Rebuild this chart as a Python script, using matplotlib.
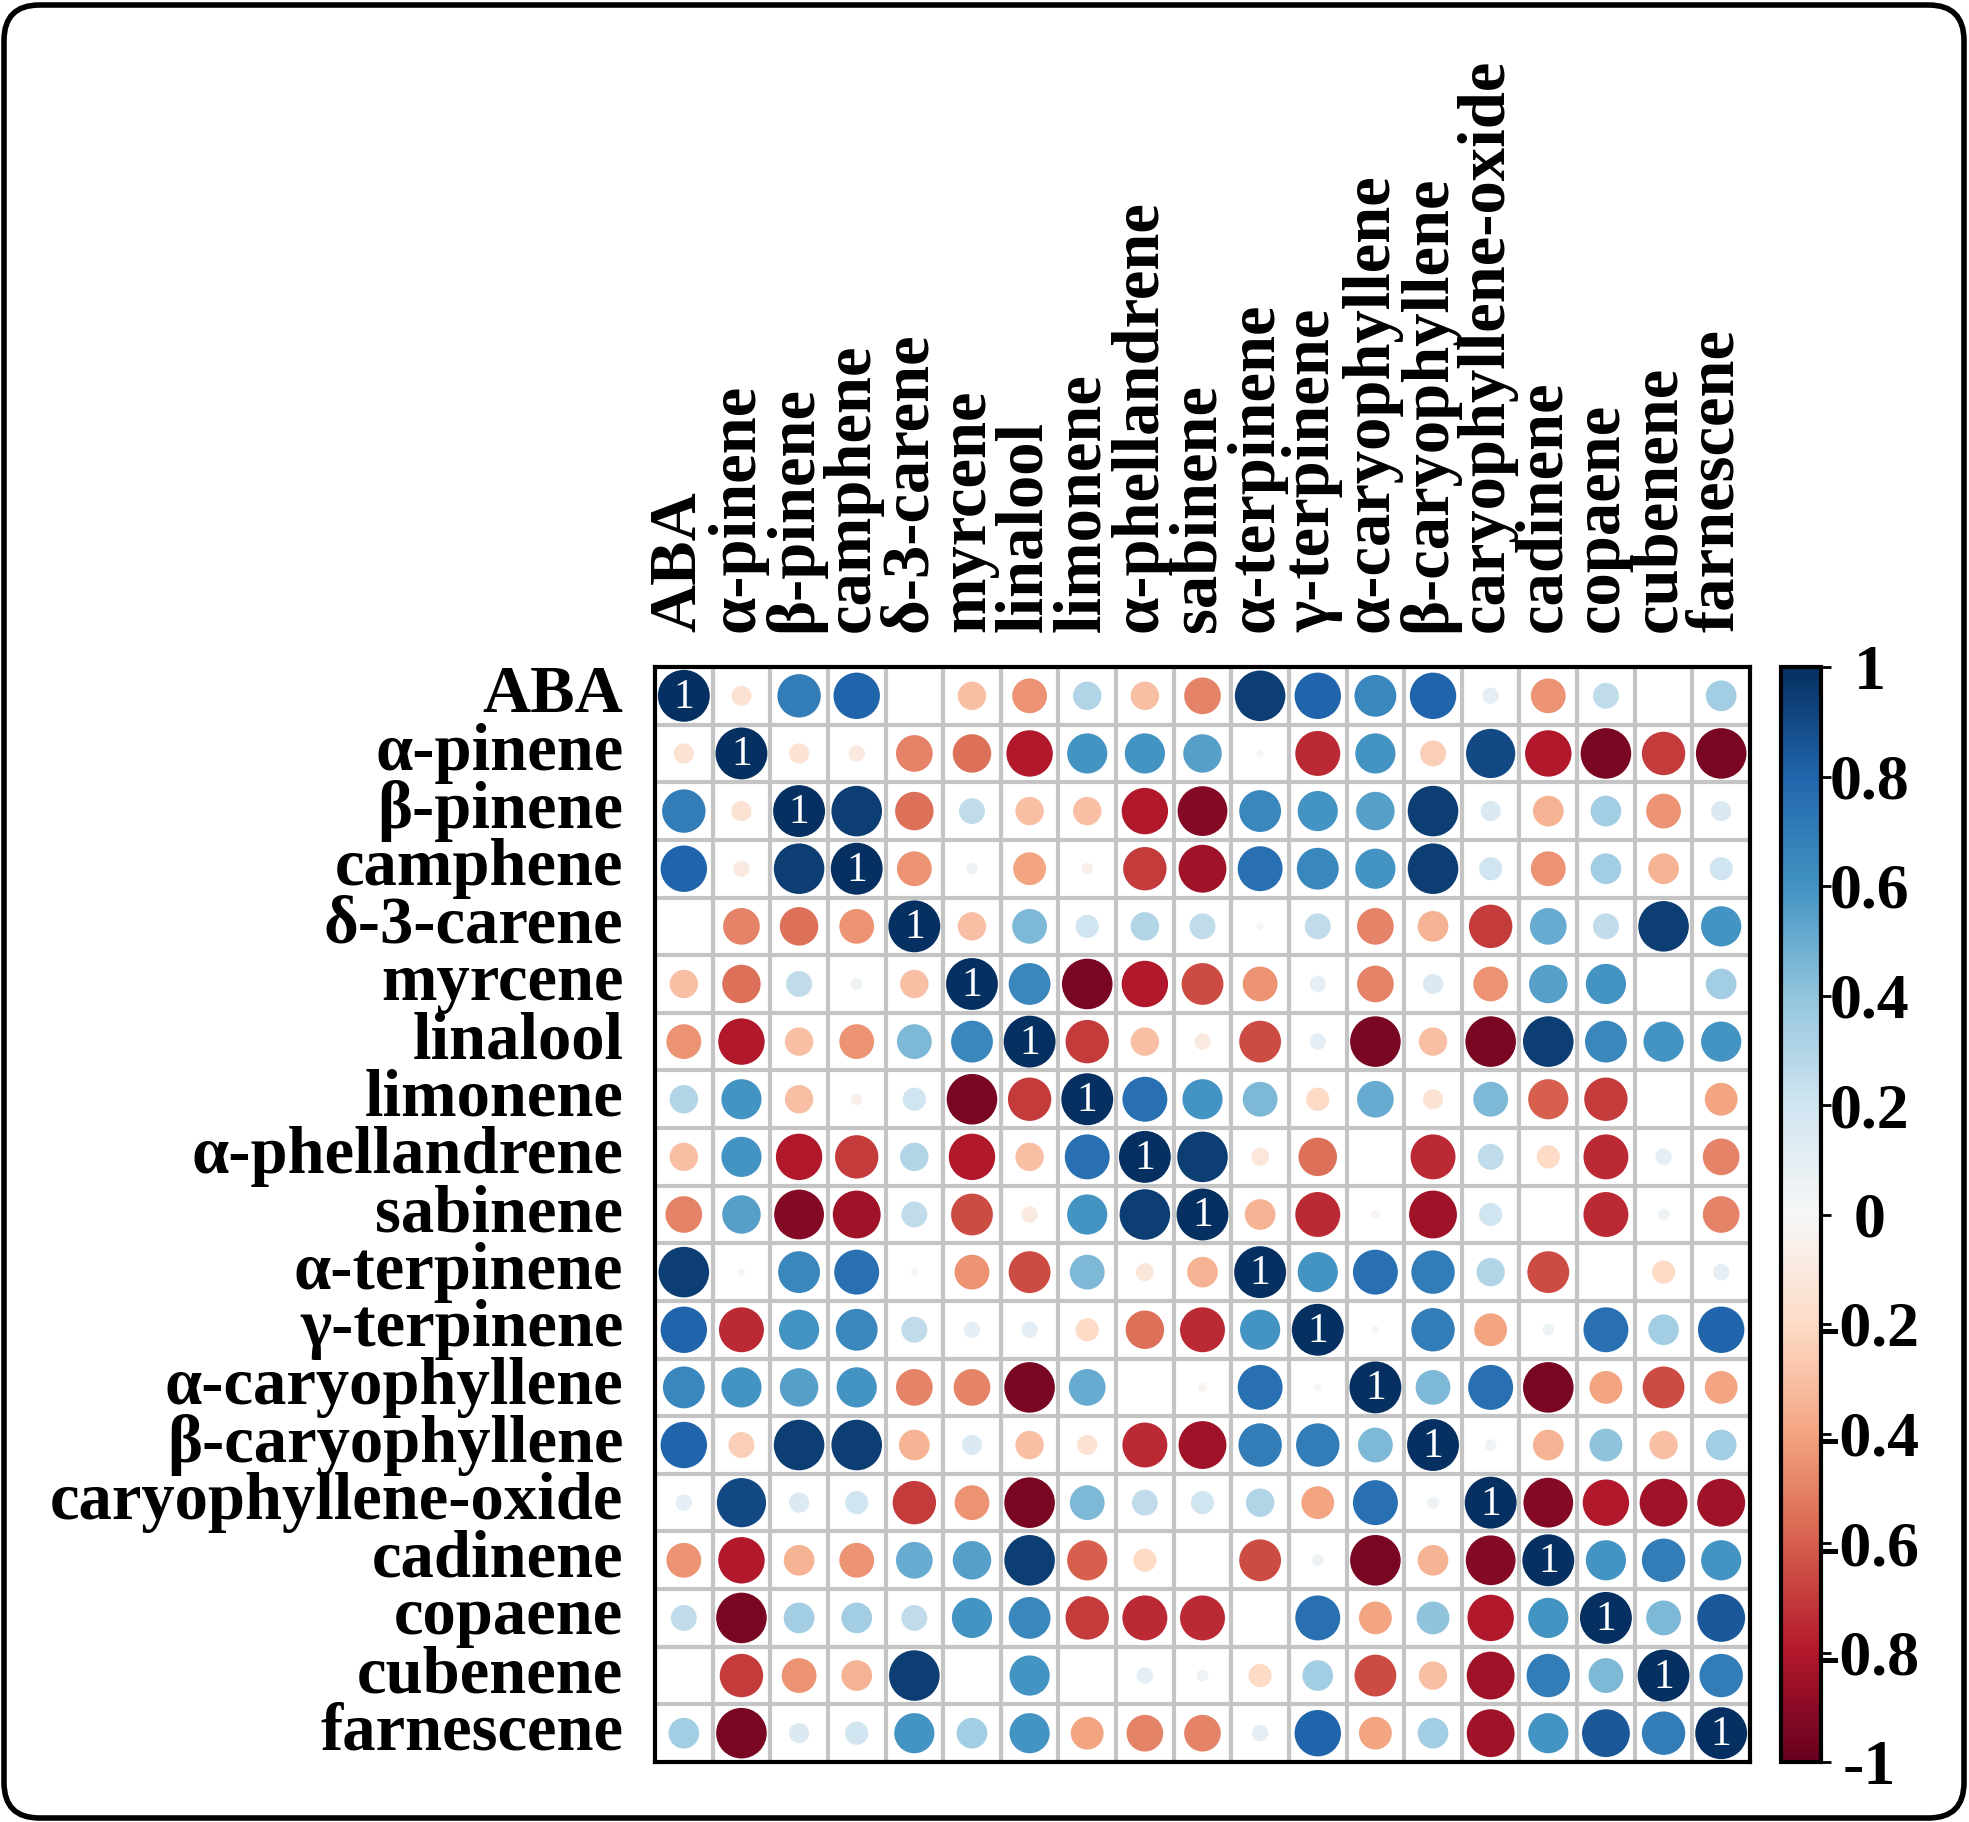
import numpy as np
import matplotlib
matplotlib.use("Agg")
import matplotlib.pyplot as plt
from matplotlib.patches import Circle, FancyBboxPatch
from matplotlib.colors import Normalize
from matplotlib.cm import ScalarMappable

plt.rcParams['font.family'] = ['Liberation Serif', 'DejaVu Serif']
plt.rcParams['font.weight'] = 'bold'

# compound names (rows and columns share the same order)
compounds = ["ABA", "α-pinene", "β-pinene", "camphene", "δ-3-carene", "myrcene",
             "linalool", "limonene", "α-phellandrene", "sabinene", "α-terpinene",
             "γ-terpinene", "α-caryophyllene", "β-caryophyllene",
             "caryophyllene-oxide", "cadinene", "copaene", "cubenene", "farnescene"]

# correlation values, one list per row
r_aba        = [1, -0.15, 0.7, 0.8, 0, -0.3, -0.45, 0.3, -0.3, -0.5, 0.95, 0.8, 0.65, 0.8, 0.1, -0.45, 0.25, 0, 0.35]
r_apinene    = [-0.15, 1, -0.15, -0.1, -0.5, -0.55, -0.8, 0.6, 0.6, 0.55, 0.02, -0.75, 0.6, -0.25, 0.9, -0.8, -0.95, -0.7, -0.95]
r_bpinene    = [0.7, -0.15, 1, 0.95, -0.55, 0.25, -0.3, -0.3, -0.8, -0.92, 0.65, 0.6, 0.55, 0.95, 0.15, -0.35, 0.35, -0.45, 0.15]
r_camphene   = [0.8, -0.1, 0.95, 1, -0.45, 0.05, -0.4, -0.05, -0.7, -0.85, 0.75, 0.65, 0.6, 0.95, 0.2, -0.45, 0.35, -0.35, 0.2]
r_carene     = [0, -0.5, -0.55, -0.45, 1, -0.3, 0.45, 0.2, 0.3, 0.25, -0.02, 0.25, -0.5, -0.35, -0.7, 0.5, 0.25, 0.95, 0.6]
r_myrcene    = [-0.3, -0.55, 0.25, 0.05, -0.3, 1, 0.65, -0.95, -0.8, -0.65, -0.45, 0.1, -0.5, 0.15, -0.45, 0.55, 0.6, 0, 0.35]
r_linalool   = [-0.45, -0.8, -0.3, -0.45, 0.45, 0.65, 1, -0.7, -0.3, -0.1, -0.65, 0.1, -0.95, -0.3, -0.95, 0.95, 0.65, 0.6, 0.6]
r_limonene   = [0.3, 0.6, -0.3, -0.05, 0.2, -0.95, -0.7, 1, 0.75, 0.6, 0.45, -0.2, 0.5, -0.15, 0.45, -0.6, -0.7, 0, -0.4]
r_aphell     = [-0.3, 0.6, -0.8, -0.7, 0.3, -0.8, -0.3, 0.75, 1, 0.95, -0.12, -0.55, 0, -0.75, 0.25, -0.2, -0.75, 0.1, -0.5]
r_sabinene   = [-0.5, 0.55, -0.92, -0.85, 0.25, -0.65, -0.1, 0.6, 0.95, 1, -0.35, -0.75, -0.03, -0.85, 0.2, 0, -0.75, 0.05, -0.5]
r_aterp      = [0.95, 0.02, 0.65, 0.75, -0.02, -0.45, -0.65, 0.45, -0.12, -0.35, 1, 0.6, 0.75, 0.7, 0.3, -0.65, 0, -0.2, 0.1]
r_gterp      = [0.8, -0.75, 0.6, 0.65, 0.25, 0.1, 0.1, -0.2, -0.55, -0.75, 0.6, 1, 0.02, 0.7, -0.4, 0.05, 0.75, 0.35, 0.8]
r_acary      = [0.65, 0.6, 0.55, 0.6, -0.5, -0.5, -0.95, 0.5, 0, -0.03, 0.75, 0.02, 1, 0.45, 0.75, -0.95, -0.4, -0.65, -0.4]
r_bcary      = [0.8, -0.25, 0.95, 0.95, -0.35, 0.15, -0.3, -0.15, -0.75, -0.85, 0.7, 0.7, 0.45, 1, 0.05, -0.35, 0.4, -0.3, 0.35]
r_caryox     = [0.1, 0.9, 0.15, 0.2, -0.7, -0.45, -0.95, 0.45, 0.25, 0.2, 0.3, -0.4, 0.75, 0.05, 1, -0.92, -0.8, -0.85, -0.85]
r_cadinene   = [-0.45, -0.8, -0.35, -0.45, 0.5, 0.55, 0.95, -0.6, -0.2, 0, -0.65, 0.05, -0.95, -0.35, -0.92, 1, 0.6, 0.7, 0.6]
r_copaene    = [0.25, -0.95, 0.35, 0.35, 0.25, 0.6, 0.65, -0.7, -0.75, -0.75, 0, 0.75, -0.4, 0.4, -0.8, 0.6, 1, 0.45, 0.85]
r_cubenene   = [0, -0.7, -0.45, -0.35, 0.95, 0, 0.6, 0, 0.1, 0.05, -0.2, 0.35, -0.65, -0.3, -0.85, 0.7, 0.45, 1, 0.7]
r_farnescene = [0.35, -0.95, 0.15, 0.2, 0.6, 0.35, 0.6, -0.4, -0.5, -0.5, 0.1, 0.8, -0.4, 0.35, -0.85, 0.6, 0.85, 0.7, 1]

corr = np.array([r_aba, r_apinene, r_bpinene, r_camphene, r_carene, r_myrcene,
                 r_linalool, r_limonene, r_aphell, r_sabinene, r_aterp, r_gterp,
                 r_acary, r_bcary, r_caryox, r_cadinene, r_copaene, r_cubenene,
                 r_farnescene])

cbar_ticks = [1, 0.8, 0.6, 0.4, 0.2, 0, -0.2, -0.4, -0.6, -0.8, -1]
cbar_labels = ["1", "0.8", "0.6", "0.4", "0.2", "0", "-0.2", "-0.4", "-0.6", "-0.8", "-1"]

n = len(compounds)
cmap = plt.get_cmap("RdBu")
norm = Normalize(vmin=-1, vmax=1)

W, H = 1969, 1822
fig = plt.figure(figsize=(W / 100, H / 100), dpi=100)

# main grid axes (pixel box -> figure fraction)
x0, y0, x1, y1 = 655, 667, 1750, 1762
ax = fig.add_axes([x0 / W, 1 - y1 / H, (x1 - x0) / W, (y1 - y0) / H])
ax.set_xlim(0, n)
ax.set_ylim(n, 0)
ax.set_xticks([])
ax.set_yticks([])
for s in ax.spines.values():
    s.set_linewidth(3)
    s.set_color("black")

# light grey cell grid
ax.vlines(np.arange(1, n), 0, n, colors="#c4c4c4", linewidth=3, zorder=1)
ax.hlines(np.arange(1, n), 0, n, colors="#c4c4c4", linewidth=3, zorder=1)

# circles: area proportional to |r|
for i in range(n):
    for j in range(n):
        v = corr[i, j]
        if abs(v) < 0.005:
            continue
        rad = 0.45 * np.sqrt(abs(v))
        ax.add_patch(Circle((j + 0.5, i + 0.5), rad, facecolor=cmap(norm(v)),
                            edgecolor="none", zorder=2))
        if i == j:
            ax.text(j + 0.5, i + 0.53, "1", color="white", fontsize=30,
                    fontweight="normal", ha="center", va="center", zorder=3)

# row labels
for i, name in enumerate(compounds):
    ax.text(-0.55, i + 0.5, name, ha="right", va="center", fontsize=48,
            fontweight="bold")

# column labels (rotated)
for j, name in enumerate(compounds):
    ax.text(j + 0.42, -0.6, name, ha="center", va="bottom", rotation=90,
            fontsize=48, fontweight="bold")

# colour bar
cx0, cx1 = 1781, 1821
cax = fig.add_axes([cx0 / W, 1 - y1 / H, (cx1 - cx0) / W, (y1 - y0) / H])
sm = ScalarMappable(norm=norm, cmap=cmap)
cb = fig.colorbar(sm, cax=cax, ticks=cbar_ticks)
cb.ax.set_yticklabels(cbar_labels)
cb.outline.set_linewidth(3)
cb.ax.tick_params(length=7, width=2, labelsize=46, pad=28)
for t in cb.ax.get_yticklabels():
    t.set_fontweight("bold")
    t.set_horizontalalignment("center")

# rounded outer frame
frame = FancyBboxPatch((4 / W, 4 / H), 1 - 9 / W, 1 - 9 / H,
                       boxstyle="round,pad=0,rounding_size=0.018",
                       transform=fig.transFigure, fill=False,
                       edgecolor="black", linewidth=4, mutation_aspect=W / H)
fig.patches.append(frame)

fig.savefig("out.png", dpi=100)
